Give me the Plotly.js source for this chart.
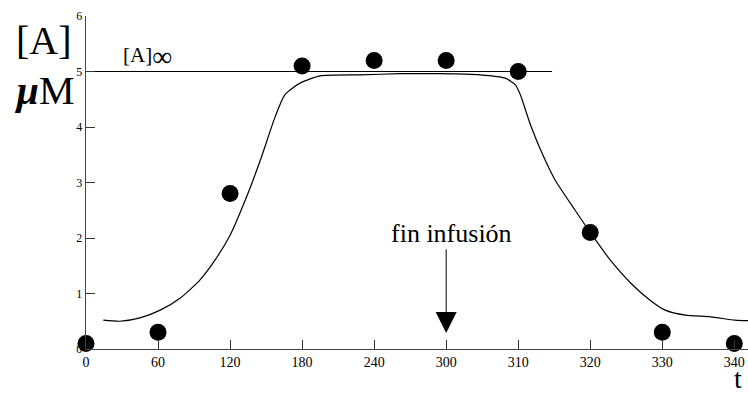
<!DOCTYPE html>
<html><head><meta charset="utf-8">
<script src="https://cdn.plot.ly/plotly-3.0.1.min.js"></script>
<style>html,body{margin:0;padding:0;background:#fff}</style>
</head><body>
<div id="chart" style="width:748px;height:396px"></div>
<script>
const tickLabels = ["0","60","120","180","240","300","310","320","330","340"];
const pointIdx = [0,1,2,3,4,5,6,7,8,9];
const pointConc = [0.1,0.3,2.8,5.1,5.2,5.2,5.0,2.1,0.3,0.1];
const curveIdx = [0.24,0.47,0.75,1.03,1.31,1.58,1.79,2.0,2.21,2.42,2.63,2.76,2.97,3.25,3.81,4.36,4.92,5.47,5.82,5.96,6.03,6.17,6.31,6.51,6.79,7.0,7.28,7.56,7.83,8.04,8.32,8.67,9.01,9.2];
const curveConc = [0.52,0.5,0.56,0.7,0.92,1.24,1.6,2.05,2.68,3.4,4.2,4.58,4.79,4.92,4.94,4.96,4.96,4.94,4.88,4.76,4.58,4.04,3.59,3.05,2.5,2.1,1.6,1.19,0.88,0.7,0.61,0.58,0.52,0.51];
const steadyIdx = [0,6.47];
const steadyConc = [5,5];
const yTicks = [0,1,2,3,4,5,6];

const serif = "Liberation Serif";
const data = [
  {x: steadyIdx, y: steadyConc, mode:"lines", line:{color:"#000",width:1}, hoverinfo:"skip"},
  {x: curveIdx, y: curveConc, mode:"lines", line:{color:"#000",width:1.2, shape:"spline", smoothing:0.6}, hoverinfo:"skip"},
  {x: pointIdx, y: pointConc, mode:"markers", marker:{color:"#000",size:17}, cliponaxis:false}
];
const layout = {
  width:748, height:396,
  margin:{l:86, r:0, t:16, b:47},
  paper_bgcolor:"#fff", plot_bgcolor:"#fff",
  showlegend:false,
  font:{family:serif, color:"#000", size:13},
  xaxis:{range:[0,9.19], showgrid:false, zeroline:false, showline:true, linecolor:"#444", linewidth:1.3,
    tickmode:"array", tickvals:pointIdx, ticktext:tickLabels, ticks:"inside", ticklen:9, tickcolor:"#333",
    tickfont:{family:serif, size:14, color:"#000"}},
  yaxis:{range:[0,6], showgrid:false, zeroline:false, showline:true, linecolor:"#444", linewidth:1.3,
    tickmode:"array", tickvals:yTicks, ticks:"inside", ticklen:9, tickcolor:"#333",
    tickfont:{family:serif, size:12, color:"#000"}},
  annotations:[
    {xref:"paper", yref:"paper", x:-0.063, y:1.0, xanchor:"center", yanchor:"middle", yshift:-24, text:"[A]", showarrow:false, font:{family:serif, size:40}},
    {xref:"paper", yref:"paper", x:-0.063, y:0.85, xanchor:"center", yanchor:"middle", yshift:-25, text:"<b><i>µ</i></b>M", showarrow:false, font:{family:serif, size:40}},
    {x:0.86, y:5, yanchor:"bottom", xanchor:"center", yshift:-2, text:"[A]<sub><span style='font-size:28px'>∞</span></sub>", showarrow:false, font:{family:serif, size:21}},
    {x:5, y:2.09, xanchor:"center", yanchor:"middle", xshift:5, text:"fin infusión", showarrow:false, font:{family:serif, size:26}},
    {x:5, y:0.29, ax:0, ay:-85, text:"", showarrow:true, arrowhead:2, arrowsize:4.2, arrowwidth:1, arrowcolor:"#000"},
    {xref:"paper", yref:"paper", x:0.985, y:0, xanchor:"center", yanchor:"bottom", yshift:-47, text:"t", showarrow:false, font:{family:serif, size:28}}
  ]
};
Plotly.newPlot("chart", data, layout, {displayModeBar:false, staticPlot:true});
</script>
</body></html>
